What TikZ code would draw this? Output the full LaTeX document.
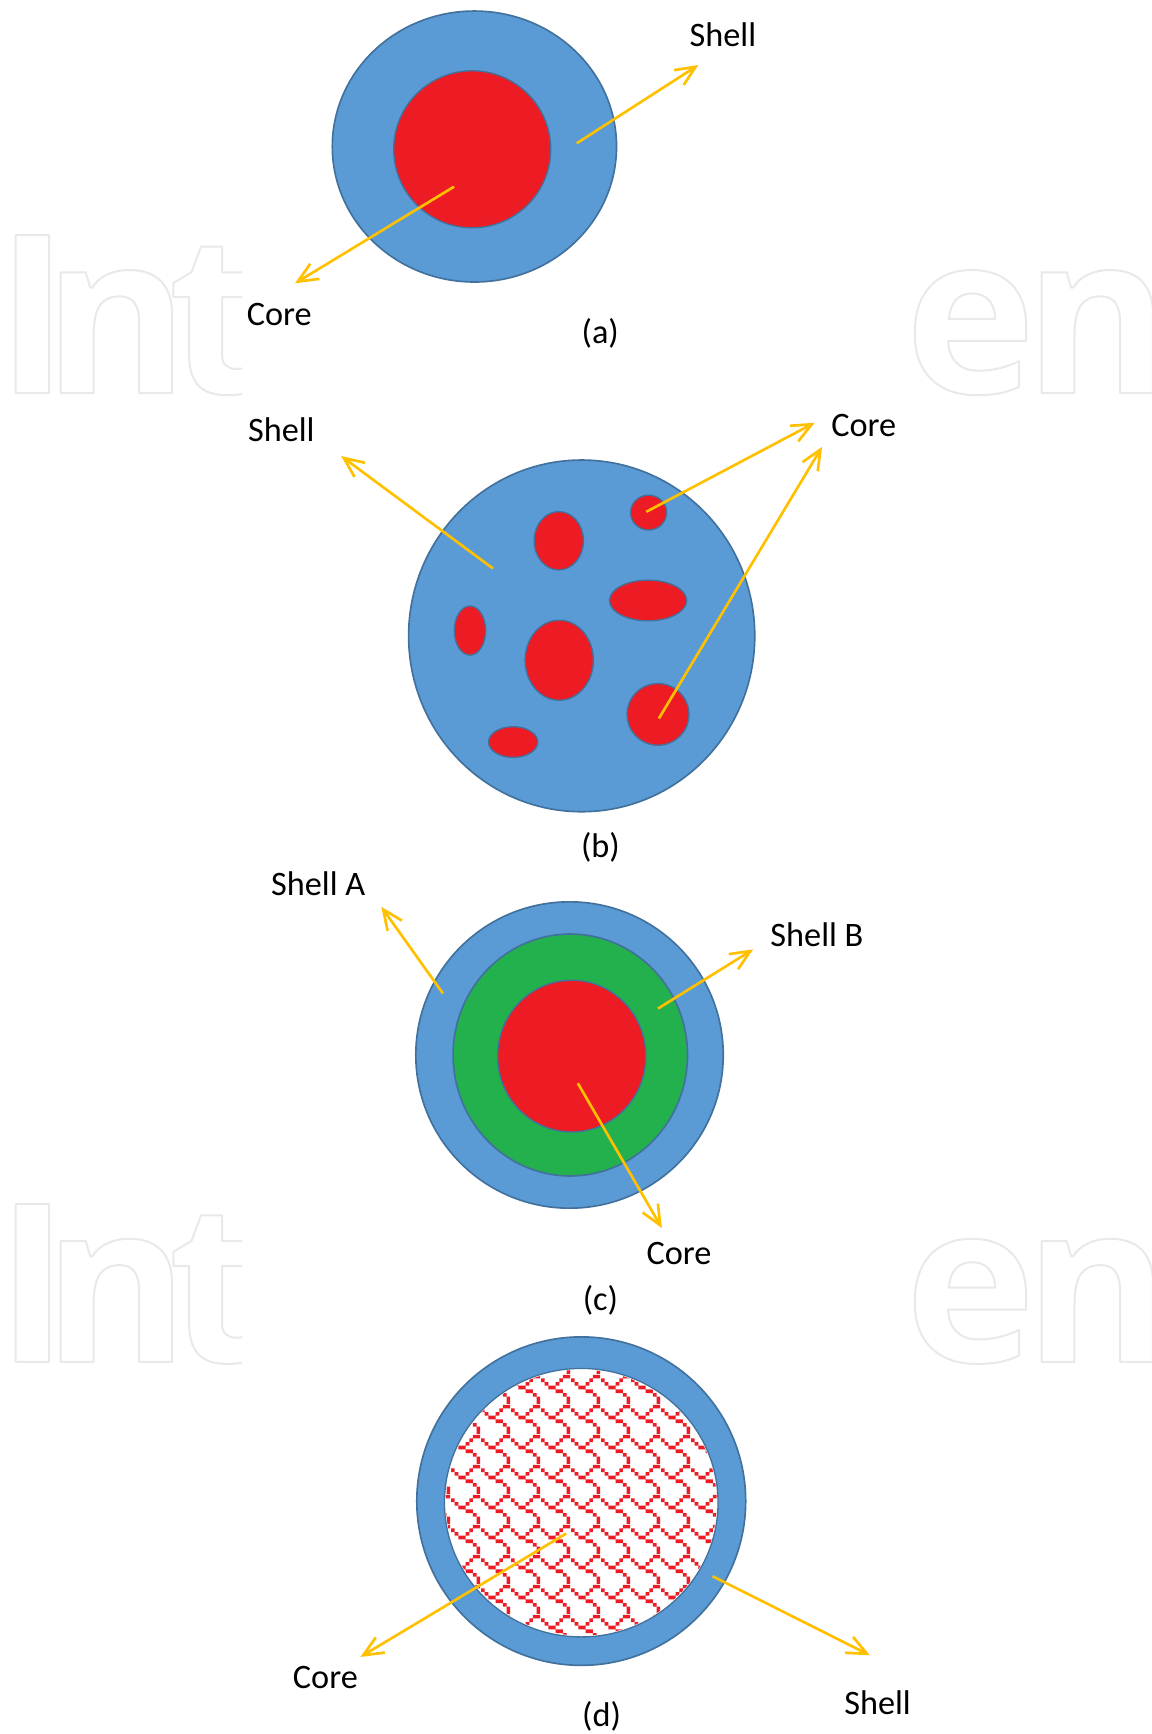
\documentclass[tikz,border=0pt]{standalone}
\usepackage{fontspec}
\setmainfont{Carlito}
\newfontfamily\wmfont{Open Sans}
\usetikzlibrary{arrows.meta,patterns}

\definecolor{shellblue}{HTML}{5B9BD5}
\definecolor{edgeblue}{HTML}{41719C}
\definecolor{corered}{HTML}{ED1C24}
\definecolor{shellgreen}{HTML}{22B14C}
\definecolor{arrowgold}{HTML}{FFC000}
\definecolor{wmgray}{HTML}{E9E9E9}

\def\shpx#1#2{\pgfpathrectangle{\pgfpoint{#1*3.4pt}{(7-#2)*3.4pt}}{\pgfpoint{3.4pt}{3.4pt}}}
\pgfdeclarepatternformonly{shingle}{\pgfqpoint{0pt}{0pt}}{\pgfqpoint{27.2pt}{27.2pt}}{\pgfqpoint{27.2pt}{27.2pt}}{%
  \shpx60\shpx70\shpx01\shpx51\shpx12\shpx42\shpx23\shpx33\shpx44\shpx54\shpx65\shpx76\shpx77
  \pgfusepath{fill}}

\newcommand\outl[1]{{\color{wmgray}\special{pdf:literal direct 1 Tr 1.8 w 1 j}#1\special{pdf:literal direct 0 Tr 0 j}}}

\begin{document}
\begin{tikzpicture}[x=1pt,y=-1pt,
  shell/.style={fill=shellblue, draw=edgeblue, line width=1.5pt},
  coreb/.style={fill=corered, draw=edgeblue, line width=1.2pt},
  arr/.style={draw=arrowgold, line width=2.4pt, -{Straight Barb[length=18pt,width=16pt]}},
  lbl/.style={font=\fontsize{31}{36}\selectfont, inner sep=0pt, anchor=base west, text=black},
  captxt/.style={font=\fontsize{31}{36}\selectfont, inner sep=0pt, anchor=base, text=black},
  wm/.style={font=\wmfont\bfseries\fontsize{200}{200}\selectfont, inner sep=0pt, anchor=base west}]

\fill[white] (0,0) rectangle (1041,1568);
\useasboundingbox (0,0) rectangle (1041,1568);

% watermark
\begin{scope}
  \clip (0,0) rectangle (219,1568);
  \foreach \k/\dy in {1/0,2/876}{
    \node[wm] (wmI\k) at (-4,355.4+\dy) {\outl{I}};
    \node[wm] (wmn\k) at (39,355.4+\dy) {\outl{n}};
    \node[wm] (wmt\k) at (152,355.4+\dy) {\outl{t}};
  }
\end{scope}
\foreach \k/\dy in {1/0,2/876}{
  \node[wm] (wme\k) at (818,355.4+\dy) {\outl{e}};
  \node[wm] (wmm\k) at (926,355.4+\dy) {\outl{n}};
}

% ---------- (a)
\draw[shell] (429,132.5) ellipse [x radius=128.5, y radius=122.5];
\draw[coreb] (427,135) ellipse [x radius=71, y radius=71];
\coordinate (a1) at (521.5,129.6); \coordinate (a2) at (631.5,58.8);
\coordinate (a3) at (410.6,168.8); \coordinate (a4) at (266.8,256.2);
\draw[arr] (a1) -- (a2);
\draw[arr] (a3) -- (a4);
\node[lbl] (aS) at (623.4,42.2) {Shell};
\node[lbl] (aC) at (223,294) {Core};
\node[captxt] (aL) at (542.8,311) {(a)};

% ---------- (b)
\draw[shell] (526,575) ellipse [x radius=156.5, y radius=159];
\draw[coreb] (505.3,489) ellipse [x radius=22.3, y radius=26.4];
\draw[coreb] (586.5,463.5) ellipse [x radius=16.3, y radius=15.8];
\draw[coreb] (586,543) ellipse [x radius=34.9, y radius=18.4];
\draw[coreb] (425,570.2) ellipse [x radius=14.2, y radius=22.2];
\draw[coreb] (505.7,597) ellipse [x radius=30.9, y radius=36.2];
\draw[coreb] (595,646) ellipse [x radius=28, y radius=27.9];
\draw[coreb] (464,671) ellipse [x radius=22.3, y radius=13.9];
\coordinate (b1) at (445.7,514); \coordinate (b2) at (308.5,412.4);
\coordinate (b3) at (584.4,462.8); \coordinate (b4) at (736.6,382.3);
\coordinate (b5) at (595.8,649.7); \coordinate (b6) at (743.4,404);
\draw[arr] (b1) -- (b2);
\draw[arr] (b3) -- (b4);
\draw[arr] (b5) -- (b6);
\node[lbl] (bS) at (224.1,399.4) {Shell};
\node[lbl] (bC) at (751.5,394.3) {Core};
\node[captxt] (bL) at (543,775) {(b)};

% ---------- (c)
\draw[shell] (515,954) ellipse [x radius=139, y radius=138.5];
\draw[fill=shellgreen, draw=edgeblue, line width=1.5pt] (515.7,954) ellipse [x radius=106, y radius=109.4];
\draw[coreb] (517,955) ellipse [x radius=67, y radius=68.6];
\coordinate (c1) at (400.6,898.4); \coordinate (c2) at (344.8,820);
\coordinate (c3) at (595,912); \coordinate (c4) at (681,858.5);
\coordinate (c5) at (522.5,979.5); \coordinate (c6) at (598.5,1110.5);
\draw[arr] (c1) -- (c2);
\draw[arr] (c3) -- (c4);
\draw[arr] (c5) -- (c6);
\node[lbl] (cSA) at (245,809.4) {Shell A};
\node[lbl] (cSB) at (696.5,856.2) {Shell B};
\node[lbl] (cC) at (584.5,1143.5) {Core};
\node[captxt] (cL) at (543,1185) {(c)};

% ---------- (d)
\draw[shell] (525.6,1357.4) ellipse [x radius=148.7, y radius=148.5];
\draw[fill=white, draw=edgeblue, line width=1.2pt] (525.6,1358.8) ellipse [x radius=123.7, y radius=121.4];
\fill[pattern=shingle, pattern color=corered] (525.6,1358.8) ellipse [x radius=122.5, y radius=120.2];
\coordinate (d1) at (512,1386.7); \coordinate (d2) at (325.9,1498.3);
\coordinate (d3) at (644.3,1425.3); \coordinate (d4) at (786.6,1496.8);
\draw[arr] (d1) -- (d2);
\draw[arr] (d3) -- (d4);
\node[lbl] (dC) at (264.7,1527) {Core};
\node[lbl] (dS) at (763.3,1550) {Shell};
\node[captxt] (dL) at (544,1561) {(d)};
\end{tikzpicture}
\end{document}
